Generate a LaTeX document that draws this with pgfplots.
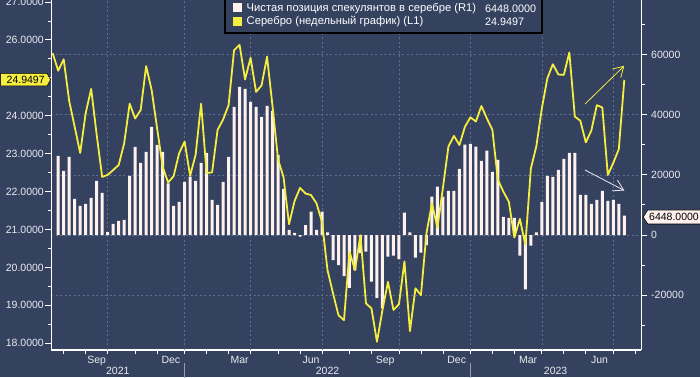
\documentclass[border=0pt]{standalone}
\usepackage{pgfplots}
\pgfplotsset{compat=1.18}
\usepackage{pgfplotstable}
\usepackage{fontspec}
\setmainfont{Liberation Sans}
\usetikzlibrary{arrows.meta}
\definecolor{bg}{RGB}{52,65,95}
\definecolor{gridc}{RGB}{92,110,145}
\definecolor{silver}{RGB}{246,238,62}
\definecolor{barc}{RGB}{255,242,238}
\definecolor{tickc}{RGB}{235,235,240}
\definecolor{sepc}{RGB}{150,155,165}

% weekly silver price (left axis), k = week index
\pgfplotstableread{
k p
0 25.65
1 25.19
2 25.49
3 24.39
4 23.71
5 23.02
6 24.07
7 24.71
8 23.50
9 22.39
10 22.44
11 22.57
12 22.70
13 23.27
14 24.32
15 23.93
16 24.15
17 25.31
18 24.68
19 23.67
20 22.66
21 22.24
22 22.41
23 23.01
24 23.32
25 22.42
26 22.97
27 24.32
28 22.49
29 22.51
30 23.63
31 23.90
32 24.28
33 25.73
34 25.87
35 24.96
36 25.53
37 24.63
38 24.80
39 25.56
40 24.25
41 22.85
42 22.38
43 21.14
44 21.75
45 22.10
46 21.95
47 21.91
48 21.69
49 21.20
50 19.93
51 19.32
52 18.74
53 18.61
54 20.42
55 19.93
56 20.85
57 19.05
58 18.92
59 18.04
60 18.88
61 19.62
62 18.88
63 19.03
64 20.16
65 18.32
66 19.45
67 19.27
68 20.90
69 21.69
70 21.05
71 22.10
72 23.19
73 23.47
74 23.23
75 23.71
76 23.96
77 23.85
78 24.26
79 23.93
80 23.63
81 22.31
82 22.00
83 21.73
84 20.79
85 21.28
86 20.60
87 22.61
88 23.20
89 24.20
90 24.99
91 25.36
92 25.09
93 25.08
94 25.67
95 23.98
96 23.87
97 23.30
98 23.61
99 24.28
100 24.22
101 22.44
102 22.76
103 23.12
104 24.9497
}\price

% net speculative position (right axis)
\pgfplotstableread{
k v
1 26330
2 21330
3 26000
4 12000
5 9670
6 10330
7 12330
8 18000
9 14000
10 1000
11 3670
12 4670
13 5000
14 19670
15 29330
16 24000
17 27670
18 36000
19 30000
20 27670
21 17220
22 9670
23 11000
24 17670
25 19440
26 18000
27 24000
28 27330
29 11670
30 10000
31 17670
32 26000
33 42670
34 49330
35 48670
36 44330
37 42670
38 39330
39 43000
40 41330
41 26670
42 15330
43 1670
44 670
45 -560
46 3330
47 7780
48 1670
49 7780
50 890
51 -8330
52 -10000
53 -13670
54 -17560
55 -11670
56 -6000
57 -5560
58 -15560
59 -20890
60 -24440
61 -7220
62 -6890
63 -8000
64 7440
65 890
66 -7560
67 -5890
68 -3330
69 12770
70 16090
71 12770
72 14650
73 14650
74 22000
75 30070
76 30300
77 29400
78 24640
79 28070
80 21000
81 25000
82 6000
83 5670
84 5670
85 -6890
86 -18110
87 -3500
88 890
89 11000
90 19670
91 19330
92 21670
93 25330
94 27330
95 27330
96 13330
97 13330
98 10330
99 11670
100 14670
101 11330
102 11670
103 10330
104 6448
}\posn

\begin{document}
\begin{tikzpicture}[x=1pt,y=1pt]
\fill[bg] (0,0) rectangle (700,377);
\begin{scope}
\clip (0,0) rectangle (700,377);
\pgfplotsset{
  base/.style={
    at={(51pt,27pt)}, anchor=south west,
    width=590pt, height=350pt, scale only axis,
    xmin=-0.31, xmax=107.04,
    axis line style={white, line width=1pt},
    tick style={white, line width=1pt},
    tick align=outside,
    major tick length=6pt, minor tick length=3.5pt,
    ticklabel style={font=\fontsize{10.5}{12}\selectfont, text=tickc},
    /pgf/number format/assume math mode=true,
    /pgf/number format/1000 sep={},
    scaled y ticks=false, scaled x ticks=false,
  },
}
\begin{axis}[base,
  ymin=-38280, ymax=78230,
  axis x line*=bottom, axis y line*=right,
  xtick={8,21.5,34,47,60.5,73.5,86.5,99.5},
  xticklabels={Sep,Dec,Mar,Jun,Sep,Dec,Mar,Jun},
  major x tick style={draw=none},
  minor xtick={2,6,10,15,19,24,28,32,36,41,45,49,54,58,63,67,71,76,80,84,89,93,97,102,106},
  minor x tick style={/pgfplots/minor tick length=4pt, line width=0.8pt},
  xticklabel style={anchor=north, inner sep=0pt, yshift=0pt},
  extra x ticks={10,24,36,49,63,76,89,102},
  extra x tick labels={},
  extra x tick style={grid=major},
  ytick={-20000,0,20000,40000,60000},
  minor ytick={-30000,-10000,10000,30000,50000,70000},
  yticklabel style={anchor=west, inner sep=0pt, xshift=4pt},
  ymajorgrids,
  grid style={gridc, dash pattern=on 2pt off 2.5pt, line width=0.7pt},
  clip=false,
]
\addplot[ybar, bar width=3pt, fill=barc, draw=none] table[x=k,y=v]{\posn};
\draw[sepc, line width=0.8pt] ([yshift=-13pt]axis cs:24,-38280) -- ([yshift=-29pt]axis cs:24,-38280);
\draw[sepc, line width=0.8pt] ([yshift=-13pt]axis cs:76,-38280) -- ([yshift=-29pt]axis cs:76,-38280);
\node[text=tickc, font=\fontsize{10.5}{12}\selectfont, inner sep=0pt] at ([yshift=-21pt]axis cs:11.85,-38280) {2021};
\node[text=tickc, font=\fontsize{10.5}{12}\selectfont, inner sep=0pt] at ([yshift=-21pt]axis cs:50,-38280) {2022};
\node[text=tickc, font=\fontsize{10.5}{12}\selectfont, inner sep=0pt] at ([yshift=-21pt]axis cs:91.5,-38280) {2023};
\end{axis}
\begin{axis}[base,
  ymin=17.823, ymax=27.055,
  axis x line=none, axis y line*=left,
  ytick={18,19,20,21,22,23,24,26,27},
  extra y ticks={25},
  extra y tick labels={},
  minor ytick={17.5,18.5,...,26.5},
  yticklabel style={anchor=east, inner sep=0pt, xshift=-1pt,
    /pgf/number format/.cd, fixed, fixed zerofill, precision=4, /tikz/.cd},
]
\addplot[silver, line width=1.8pt, line join=round] table[x=k,y=p]{\price};
\draw[silver, line width=0.8pt, -{Straight Barb[length=10pt,width=12pt]}]
  (axis cs:96.85,24.31) -- (axis cs:104,25.32);
\draw[tickc, line width=0.8pt, -{Straight Barb[length=10pt,width=12pt]}]
  (axis cs:96.85,22.57) -- (axis cs:104,22.03);
\end{axis}

% legend
\draw[black, line width=1.2pt, fill=bg] (225,344) rectangle (542,381);
\fill[barc] (232.5,364.5) rectangle (241.5,373.5);
\fill[silver] (232.5,351) rectangle (241.5,360);
\node[anchor=west, text=white, font=\fontsize{11.2}{13}\selectfont, inner sep=0pt] at (246.5,368.5) {Чистая позиция спекулянтов в серебре (R1)};
\node[anchor=west, text=white, font=\fontsize{10.8}{13}\selectfont, inner sep=0pt] at (485,368.5) {6448.0000};
\node[anchor=west, text=white, font=\fontsize{11.2}{13}\selectfont, inner sep=0pt] at (246.5,355.5) {Серебро (недельный график) (L1)};
\node[anchor=west, text=white, font=\fontsize{10.8}{13}\selectfont, inner sep=0pt] at (485,355.5) {24.9497};

% last-value labels
\filldraw[fill=silver, draw=black, line width=0.5pt] (0.5,291) -- (47,291) -- (50.5,297.3) -- (47,303.7) -- (0.5,303.7) -- cycle;
\node[anchor=west, text=black, font=\fontsize{10.5}{12}\selectfont, inner sep=0pt] at (6.5,297.3) {24.9497};
\filldraw[fill=barc, draw=black, line width=0.6pt] (643.3,160) -- (647.7,167) -- (705,167) -- (705,153) -- (647.7,153) -- cycle;
\node[anchor=west, text=black, font=\fontsize{10.5}{12}\selectfont, inner sep=0pt] at (649,160) {6448.0000};
\end{scope}
\pgfresetboundingbox
\path (0,0) rectangle (700,377);
\end{tikzpicture}
\end{document}
